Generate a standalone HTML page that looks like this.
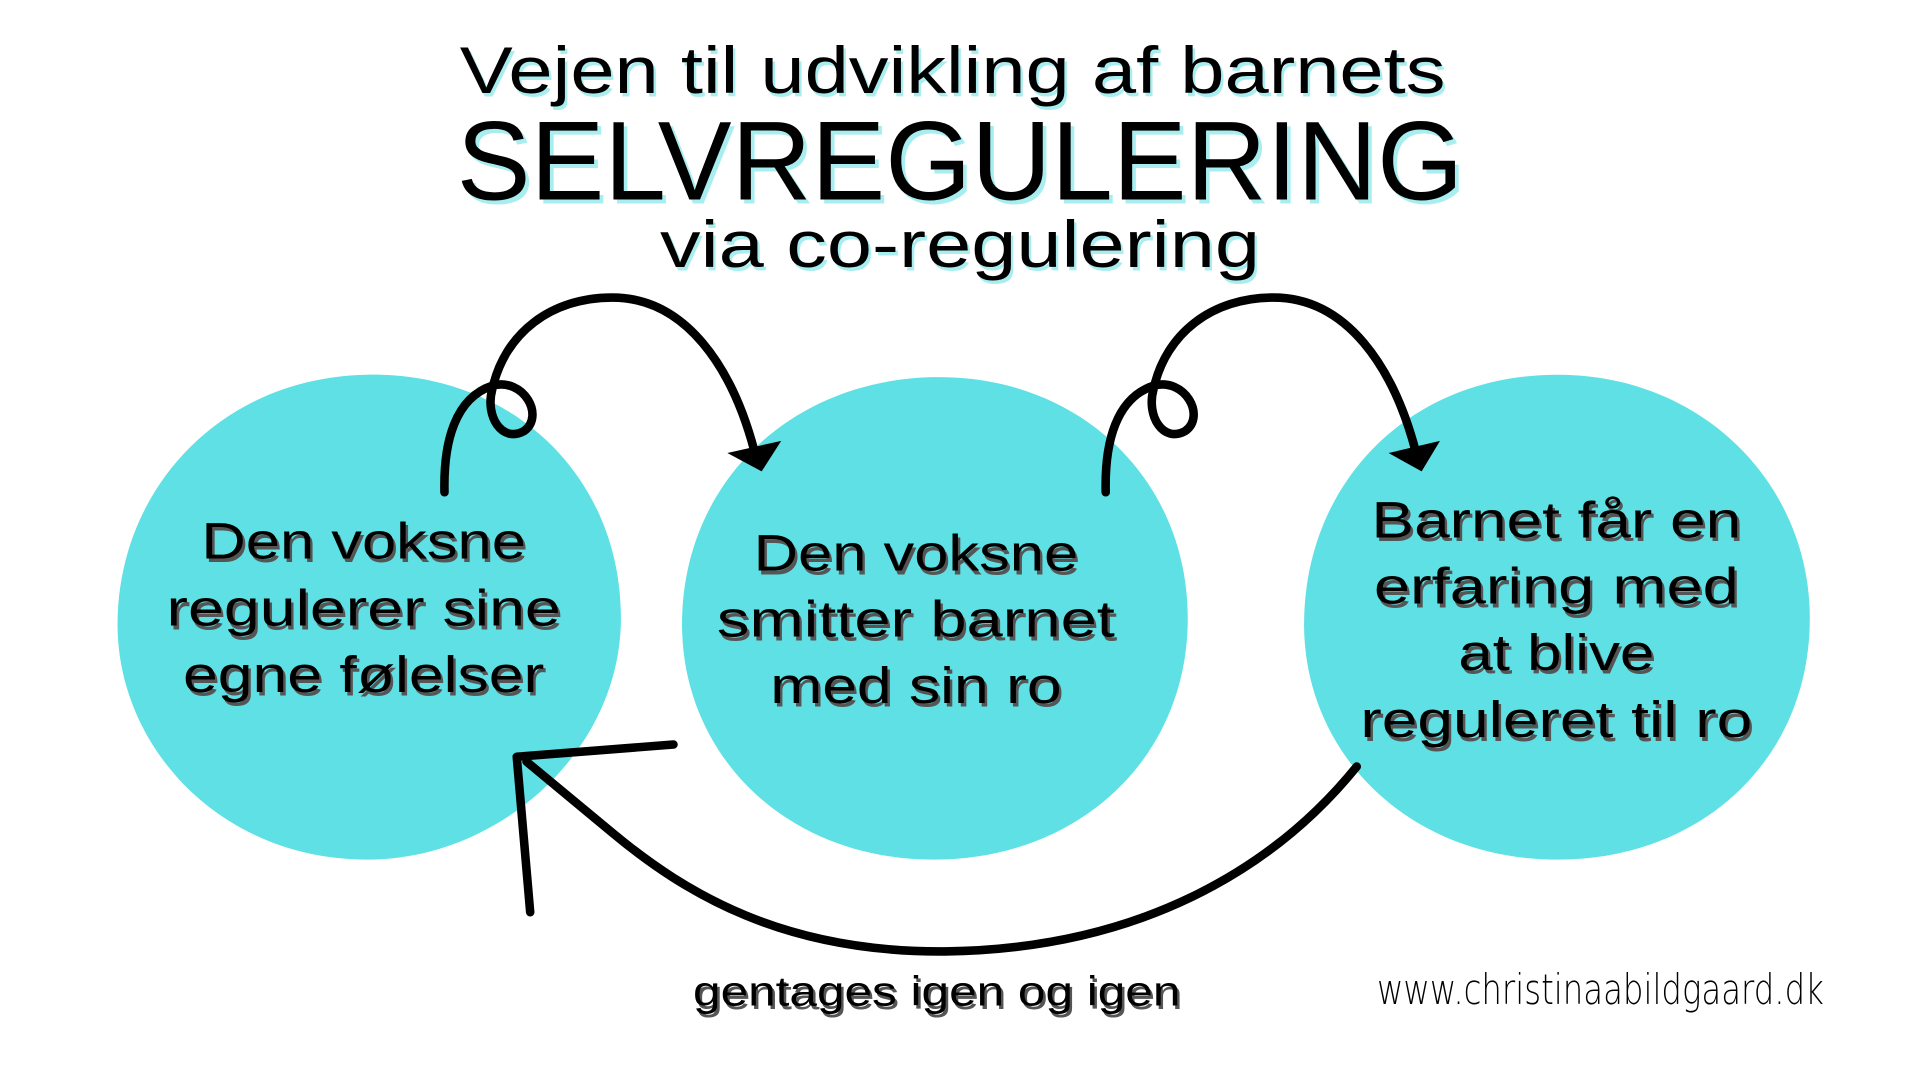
<!DOCTYPE html>
<html><head><meta charset="utf-8"><style>
html,body{margin:0;padding:0;background:#fff;width:1920px;height:1080px;overflow:hidden}
svg{display:block}
text{font-family:"Liberation Sans",sans-serif;text-anchor:middle}
</style></head><body>
<svg width="1920" height="1080" viewBox="0 0 1568 882" xmlns="http://www.w3.org/2000/svg">
<rect width="1568" height="882" fill="#fff"/>
<g fill="#5ee0e4">
<path d="M300 306 C420 304 505 390 507 500 C510 610 410 702 300 702 C180 702 96 610 96 510 C96 400 180 308 300 306Z"/>
<path d="M763 308 C880 306 970 390 970 505 C970 620 880 702 763 702 C640 702 557 615 557 510 C557 395 645 310 763 308Z"/>
<path d="M1272 306 C1390 306 1478 395 1478 505 C1478 620 1390 702 1272 702 C1150 702 1065 615 1065 510 C1065 395 1150 306 1272 306Z"/>
</g>
<g fill="#000">
<text x="778" y="76" font-size="54" textLength="805" lengthAdjust="spacingAndGlyphs" fill="#a8eef0" transform="translate(2,3)">Vejen til udvikling af barnets</text>
<text x="778" y="76" font-size="54" textLength="805" lengthAdjust="spacingAndGlyphs">Vejen til udvikling af barnets</text>
<text x="784" y="163" font-size="92" textLength="822" lengthAdjust="spacingAndGlyphs" fill="#a8eef0" transform="translate(3,3)">SELVREGULERING</text>
<text x="784" y="163" font-size="92" textLength="822" lengthAdjust="spacingAndGlyphs">SELVREGULERING</text>
<text x="784" y="218" font-size="54" textLength="490" lengthAdjust="spacingAndGlyphs" fill="#a8eef0" transform="translate(2,3)">via co-regulering</text>
<text x="784" y="218" font-size="54" textLength="490" lengthAdjust="spacingAndGlyphs">via co-regulering</text>
</g>
<g font-size="42">
<g fill="#555" transform="translate(2,3)">
<text x="297" y="456" textLength="265" lengthAdjust="spacingAndGlyphs">Den voksne</text>
<text x="297" y="511" textLength="322" lengthAdjust="spacingAndGlyphs">regulerer sine</text>
<text x="297" y="565" textLength="295" lengthAdjust="spacingAndGlyphs">egne følelser</text>
<text x="748" y="466" textLength="265" lengthAdjust="spacingAndGlyphs">Den voksne</text>
<text x="748" y="520" textLength="325" lengthAdjust="spacingAndGlyphs">smitter barnet</text>
<text x="748" y="574" textLength="238" lengthAdjust="spacingAndGlyphs">med sin ro</text>
<text x="1271" y="439" textLength="302" lengthAdjust="spacingAndGlyphs">Barnet får en</text>
<text x="1271" y="493" textLength="298" lengthAdjust="spacingAndGlyphs">erfaring med</text>
<text x="1271" y="547" textLength="160" lengthAdjust="spacingAndGlyphs">at blive</text>
<text x="1271" y="602" textLength="320" lengthAdjust="spacingAndGlyphs">reguleret til ro</text>
</g>
<g fill="#000">
<text x="297" y="456" textLength="265" lengthAdjust="spacingAndGlyphs">Den voksne</text>
<text x="297" y="511" textLength="322" lengthAdjust="spacingAndGlyphs">regulerer sine</text>
<text x="297" y="565" textLength="295" lengthAdjust="spacingAndGlyphs">egne følelser</text>
<text x="748" y="466" textLength="265" lengthAdjust="spacingAndGlyphs">Den voksne</text>
<text x="748" y="520" textLength="325" lengthAdjust="spacingAndGlyphs">smitter barnet</text>
<text x="748" y="574" textLength="238" lengthAdjust="spacingAndGlyphs">med sin ro</text>
<text x="1271" y="439" textLength="302" lengthAdjust="spacingAndGlyphs">Barnet får en</text>
<text x="1271" y="493" textLength="298" lengthAdjust="spacingAndGlyphs">erfaring med</text>
<text x="1271" y="547" textLength="160" lengthAdjust="spacingAndGlyphs">at blive</text>
<text x="1271" y="602" textLength="320" lengthAdjust="spacingAndGlyphs">reguleret til ro</text>
</g>
</g>
<g fill="none" stroke="#000" stroke-width="7" stroke-linecap="round" stroke-linejoin="round">
<path d="M363 402 C362 360 372 325 402 315 C428 308 445 340 428 352 C410 362 396 340 402 318 C412 272 450 243 500 243 C560 243 598 300 616 368"/>
<path d="M903 402 C902 360 912 325 942 315 C968 308 985 340 968 352 C950 362 936 340 942 318 C952 272 990 243 1040 243 C1100 243 1138 300 1156 368"/>
<path d="M1108 626 C1040 710 930 775 772 777 C640 778 560 730 500 680 L430 622"/>
<path d="M550 608 L422 618 L433 745"/>
</g>
<g fill="#000">
<path d="M594 370 L638 360 L622 385 Z"/>
<path d="M1134 370 L1176 360 L1161 385 Z"/>
</g>
<text x="765" y="821" font-size="34" textLength="398" lengthAdjust="spacingAndGlyphs" fill="#555" transform="translate(2,3)">gentages igen og igen</text>
<text x="765" y="821" font-size="34" textLength="398" lengthAdjust="spacingAndGlyphs">gentages igen og igen</text>
<text x="1307" y="820" font-size="34" textLength="365" lengthAdjust="spacingAndGlyphs" style="font-family:'DejaVu Sans',cursive" font-weight="300">www.christinaabildgaard.dk</text>
</svg>
</body></html>
